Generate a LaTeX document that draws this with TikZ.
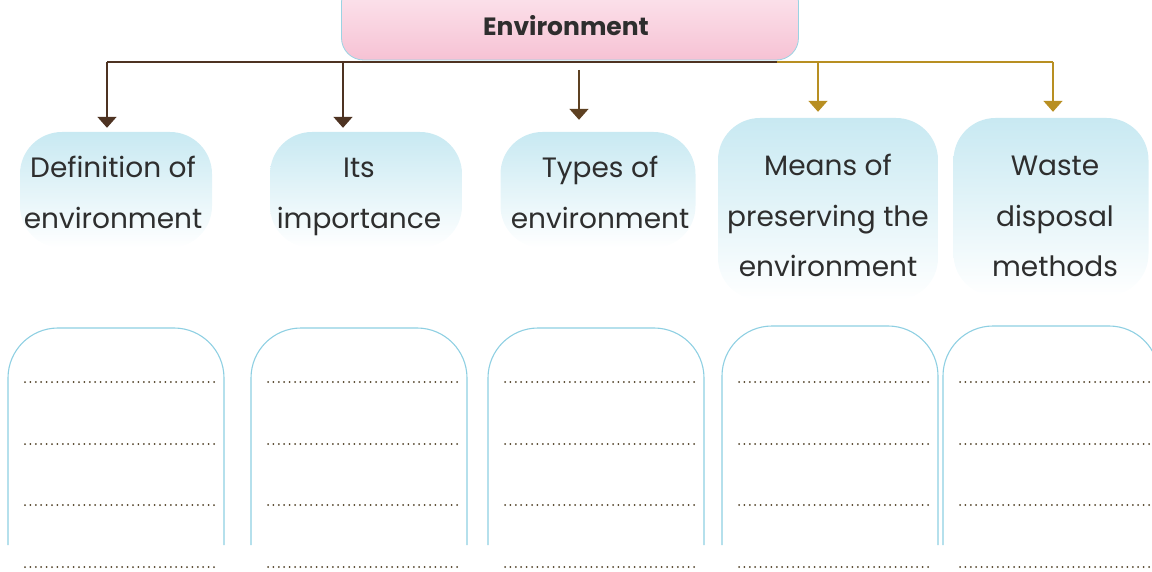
\documentclass[tikz,border=0pt]{standalone}
\usepackage{fontspec}
\setmainfont{Poppins}
\usetikzlibrary{arrows.meta}
\definecolor{txt}{HTML}{2E2E2E}
\definecolor{pinkT}{HTML}{FDE9F0}
\definecolor{pinkB}{HTML}{F6C2D4}
\definecolor{pinkE}{HTML}{9AD3E3}
\definecolor{blueT}{HTML}{C8E9F2}
\definecolor{outl}{HTML}{8ECFE2}
\definecolor{brownL}{HTML}{4E3322}
\definecolor{goldL}{HTML}{B88F22}
\definecolor{dotc}{HTML}{4F4026}
\tikzset{
  envbox/.style={minimum width=457pt, minimum height=80pt, rounded corners=22pt,
    top color=pinkT, bottom color=pinkB, draw=pinkE, line width=0.8pt, inner sep=0pt},
  envtext/.style={text=txt, font=\bfseries\fontsize{25}{28}\selectfont},
  topicshape/.style={rounded corners=42pt, inner sep=0pt, top color=blueT,
    middle color=blueT!85, bottom color=white},
  topictext/.style={text=txt, align=center, inner sep=0pt,
    font=\fontsize{28}{51}\selectfont},
  blankbox/.style={minimum width=216pt, minimum height=244pt, inner sep=0pt},
  boxline/.style={draw=outl, line width=1.1pt, rounded corners=50pt},
  dotline/.style={draw=dotc, line width=2pt, line cap=round, dash pattern=on 0pt off 5.4pt},
  hline/.style={line width=1.5pt},
  varrow/.style={line width=1.8pt, -{Triangle[width=19pt,length=11pt]}}
}
\begin{document}
\begin{tikzpicture}[x=1pt,y=-1pt]
\useasboundingbox (0,0) rectangle (1152,572);

% top node
\node[envbox] (env) at (570,20) {};
\node[envtext] (envt) at (566,26) {Environment};

% junction coordinates on the horizontal line
\coordinate (j1) at (107,62);
\coordinate (j2) at (343,62);
\coordinate (j3) at (579,70);
\coordinate (jc) at (777,62);
\coordinate (j4) at (818,62);
\coordinate (j5) at (1053,62);

% topic shapes
\node[topicshape, minimum width=192pt, minimum height=116pt] (s1) at (116,190) {};
\node[topicshape, minimum width=192pt, minimum height=116pt] (s2) at (366,190) {};
\node[topicshape, minimum width=195pt, minimum height=116pt] (s3) at (598,190) {};
\node[topicshape, minimum width=220pt, minimum height=182pt] (s4) at (828,209) {};
\node[topicshape, minimum width=195pt, minimum height=178pt] (s5) at (1051,207) {};

% topic texts
\node[topictext] (t1) at (113,193.3) {\strut Definition of\\\strut environment};
\node[topictext] (t2) at (359,193.3) {\strut Its\\\strut importance};
\node[topictext] (t3) at (600,193.3) {\strut Types of\\\strut environment};
\node[topictext] (t4) at (828,215.8) {\strut Means of\\\strut preserving the\\\strut environment};
\node[topictext] (t5) at (1055,215.8) {\strut Waste\\\strut disposal\\\strut methods};

% connectors
\draw[hline, brownL] (j1) -- (jc);
\draw[hline, goldL] (jc) -- (j5);
\draw[varrow, brownL, shorten >=4pt] (j1) -- (j1 |- s1.north);
\draw[varrow, brownL, shorten >=4pt] (j2) -- (j2 |- s2.north);
\draw[varrow, brownL!85!goldL, shorten >=12pt] (j3) -- (j3 |- s3.north);
\draw[varrow, goldL, shorten >=6pt] (j4) -- (j4 |- s4.north);
\draw[varrow, goldL, shorten >=6pt] (j5) -- (j5 |- s5.north);

% blank answer boxes
\foreach \i/\l/\t in {1/8/328, 2/251/328, 3/488/328, 4/722/326, 5/943/326} {
  \node[blankbox] (b\i) at (\l+108, \t+122) {};
  \draw[boxline] (\l,545) -- (\l,\t) -- (\l+216,\t) -- (\l+216,545);
  \foreach \yy in {382,444,505,567} {
    \draw[dotline] (\l+17,\yy) -- (\l+211,\yy);
  }
}
\end{tikzpicture}
\end{document}
